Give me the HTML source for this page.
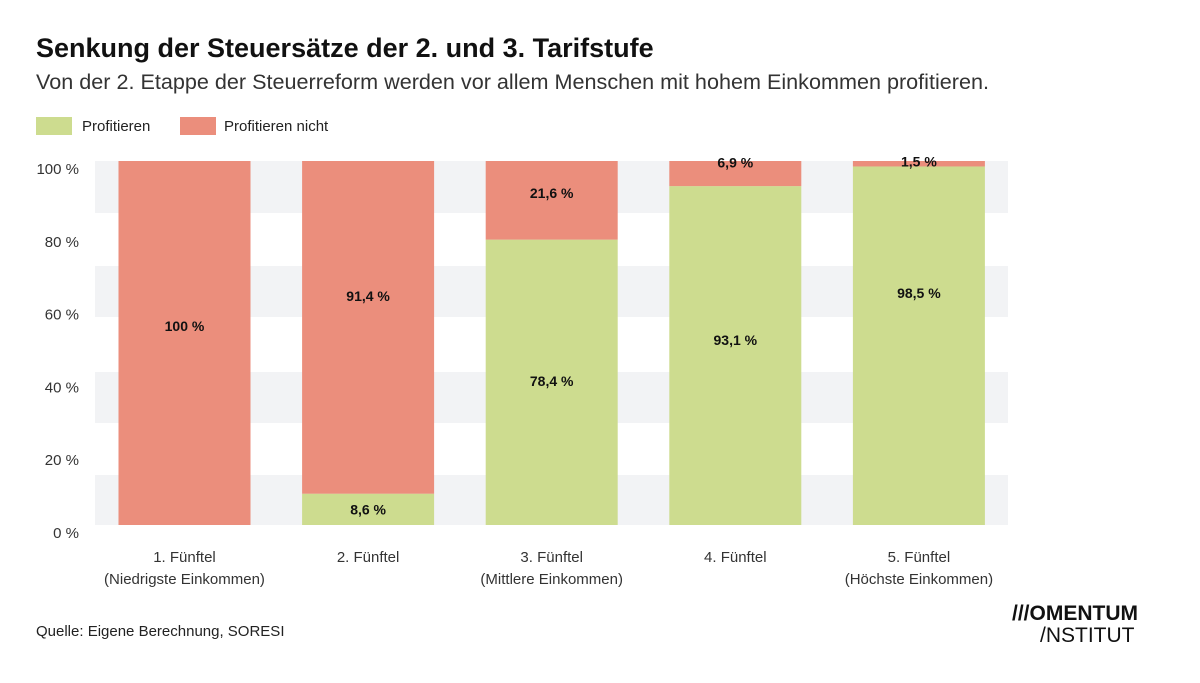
<!DOCTYPE html>
<html><head><meta charset="utf-8"><style>
body{margin:0;width:1200px;height:683px;background:#fff;font-family:"Liberation Sans",sans-serif;overflow:hidden;position:relative}
.t{position:absolute;white-space:nowrap}
</style></head><body>
<div class="t" style="left:36px;top:33px;font-size:27px;font-weight:bold;color:#111">Senkung der Steuersätze der 2. und 3. Tarifstufe</div>
<div class="t" style="left:36px;top:69px;font-size:21.6px;color:#333">Von der 2. Etappe der Steuerreform werden vor allem Menschen mit hohem Einkommen profitieren.</div>
<div class="t" style="left:36px;top:117px;font-size:15px;color:#222"><span style="display:inline-block;width:36px;height:18px;background:#cddc8f;vertical-align:-4px;margin-right:10px"></span>Profitieren</div>
<div class="t" style="left:180px;top:117px;font-size:15px;color:#222"><span style="display:inline-block;width:36px;height:18px;background:#eb8e7c;vertical-align:-4px;margin-right:8px"></span>Profitieren nicht</div>
<svg id="chart" width="1200" height="683" style="position:absolute;left:0;top:0"></svg>
<div class="t" style="left:36px;top:623px;font-size:15px;color:#222">Quelle: Eigene Berechnung, SORESI</div>
<div class="t" style="left:1012px;top:603px;font-size:21px;font-weight:bold;color:#111;line-height:22px">///OMENTUM<br><span style="font-weight:normal;padding-left:28px">/NSTITUT</span></div>
<script>
const categories=["1. Fünftel|(Niedrigste Einkommen)","2. Fünftel","3. Fünftel|(Mittlere Einkommen)","4. Fünftel","5. Fünftel|(Höchste Einkommen)"];
const profit=[0,8.6,78.4,93.1,98.5];
const notProfit=[100,91.4,21.6,6.9,1.5];
const profitLabels=["","8,6 %","78,4 %","93,1 %","98,5 %"];
const notLabels=["100 %","91,4 %","21,6 %","6,9 %","1,5 %"];
const profitLabelAt=[0,4.3,39.6,50.8,63.7];
const notLabelAt=[54.7,62.9,91.2,99.6,99.9];
const yTicks=[0,20,40,60,80,100];
const svg=document.getElementById('chart');const NS='http://www.w3.org/2000/svg';
const X0=95,X1=1008,Y0=525,Y1=161;
const y=v=>Y0-(v/100)*(Y0-Y1);
const step=183.6,bw=132;
const xc=i=>92.7+step*(i+0.5);
function mk(t,a){const e=document.createElementNS(NS,t);for(const k in a)e.setAttribute(k,a[k]);svg.appendChild(e);return e;}
[[161,213],[266,317],[372,423],[475,525]].forEach(b=>{
const r=mk('rect',{x:X0,y:b[0],width:X1-X0,height:b[1]-b[0],fill:'#f2f3f5'});

});
yTicks.forEach(v=>{const t=mk('text',{x:79,y:y(v)+13,'text-anchor':'end','font-size':15,fill:'#333','font-family':'Liberation Sans'});t.textContent=v+' %';

});
categories.forEach((c,i)=>{
const x=xc(i)-bw/2;
if(profit[i]>0){const r=mk('rect',{x:x,y:y(profit[i]),width:bw,height:Y0-y(profit[i]),fill:'#cddc8f'});

}
const top=profit[i]+notProfit[i];
const r2=mk('rect',{x:x,y:y(top),width:bw,height:y(profit[i])-y(top),fill:'#eb8e7c'});


const lab=(txt,v)=>{const t=mk('text',{x:xc(i),y:v+5,'text-anchor':'middle','font-size':14,'font-weight':'bold',fill:'#111','font-family':'Liberation Sans'});t.textContent=txt;

};
if(profitLabels[i])lab(profitLabels[i],y(profitLabelAt[i]));
lab(notLabels[i],y(notLabelAt[i]));
c.split('|').forEach((s,j)=>{const t=mk('text',{x:xc(i),y:562+j*22,'text-anchor':'middle','font-size':15,fill:'#333','font-family':'Liberation Sans'});t.textContent=s;

});
});
</script>
</body></html>
